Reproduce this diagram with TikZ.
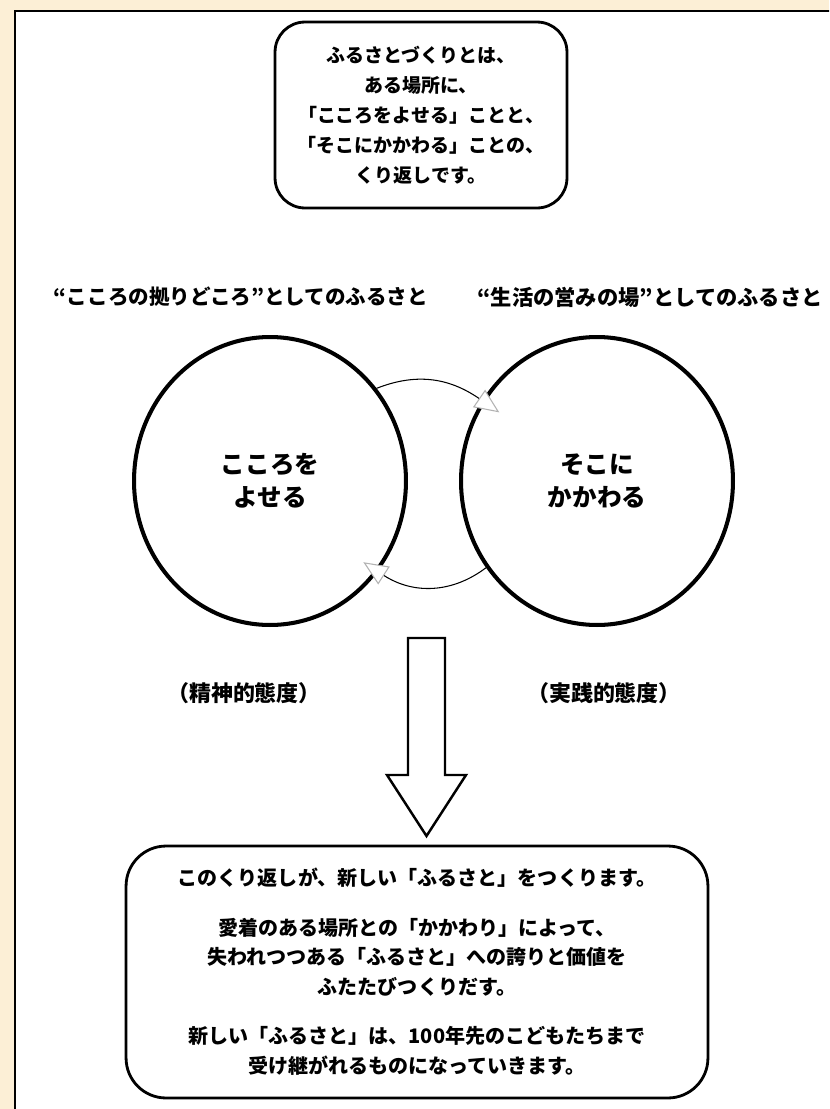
\documentclass[tikz,border=0pt]{standalone}
\usepackage{fontspec}
\setmainfont{Noto Sans CJK JP}
\usetikzlibrary{arrows.meta,shapes.geometric}
\definecolor{paper}{RGB}{252,239,214}
\begin{document}
\begin{tikzpicture}[x=0.02cm,y=-0.02cm,
  box/.style={draw,line width=1.6pt,align=center,inner sep=0pt},
  ring/.style={draw,ellipse,line width=2.3pt,minimum width=5.44cm,minimum height=5.76cm,align=center,inner sep=0pt,
    font=\fontsize{14}{18.7}\selectfont\bfseries},
  loop/.style={line width=0.6pt,-{Triangle[length=14pt,width=12pt,color=black!30,fill=white]}},
  every node/.style={inner sep=0pt}]
\useasboundingbox (0,0) rectangle (829,1109);
\clip (0,0) rectangle (829,1109);
\fill[paper] (0,0) rectangle (829,1109);
\draw[line width=1.5pt,fill=white] (15,11) rectangle (880,1160);
% top message
\node[box,rounded corners=0.6cm,minimum width=5.84cm,minimum height=3.72cm,font=\fontsize{10.8}{17}\selectfont\bfseries]
  (intro) at (421,115)
  {ふるさとづくりとは、\\ある場所に、\\「こころをよせる」ことと、\\「そこにかかわる」ことの、\\くり返しです。};
\node[font=\fontsize{11.7}{14}\selectfont\bfseries] (lblL) at (241,297) {“こころの拠りどころ”としてのふるさと};
\node[font=\fontsize{12.1}{14}\selectfont\bfseries] (lblR) at (650,297) {“生活の営みの場”としてのふるさと};
% the two attitudes
\node[ring] (kokoro) at (270,481) {こころを\\よせる};
\node[ring] (soko) at (597,481) {そこに\\かかわる};
\draw[loop,shorten >=-12pt] (kokoro.41) to[bend left=28] (soko.145);
\draw[loop,shorten >=-10pt] (soko.218) to[bend left=35] (kokoro.320);
\node[font=\fontsize{12.5}{14}\selectfont\bfseries] (seishin) at (244,693) {（精神的態度）};
\node[font=\fontsize{12.5}{14}\selectfont\bfseries] (jissen) at (604,693) {（実践的態度）};
% block arrow
\draw[line width=1.4pt,line join=miter] (408,638) -- (445,638) -- (445,775) -- (466,775) -- (426.5,836)
  -- (387,775) -- (408,775) -- cycle;
% bottom message
\node[box,rounded corners=0.8cm,minimum width=11.64cm,minimum height=5.04cm,font=\fontsize{11.4}{17}\selectfont\bfseries]
  (result) at (417,972)
  {このくり返しが、新しい「ふるさと」をつくります。\\[11pt]
   愛着のある場所との「かかわり」によって、\\失われつつある「ふるさと」への誇りと価値を\\ふたたびつくりだす。\\[11pt]
   新しい「ふるさと」は、100年先のこどもたちまで\\受け継がれるものになっていきます。};
\end{tikzpicture}
\end{document}
